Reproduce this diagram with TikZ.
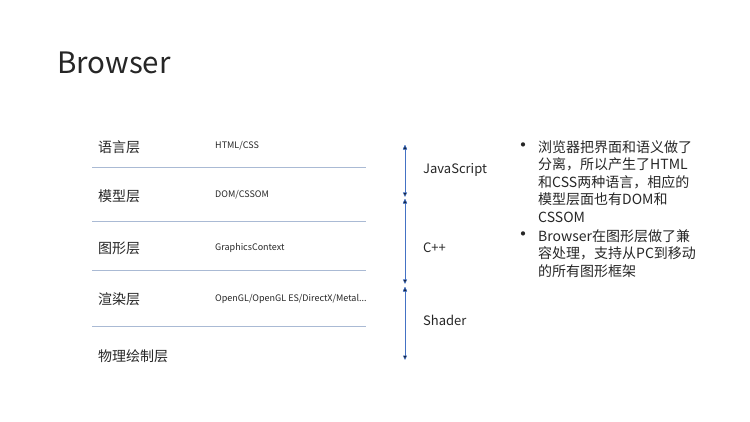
\documentclass[tikz,border=0pt]{standalone}
\usepackage{fontspec}
\setmainfont{Noto Sans CJK SC}
\usetikzlibrary{positioning,arrows.meta}
\definecolor{sepline}{RGB}{170,186,212}
\definecolor{arrblue}{RGB}{68,114,196}
\definecolor{ink}{RGB}{38,38,38}

\begin{document}
\begin{tikzpicture}
                [x=1pt, y=-1pt, every node/.style={text=ink},
                layer/.style = {anchor=west, inner sep=0, font=\fontsize{14}{16}\selectfont},
                api/.style = {anchor=west, inner sep=0, font=\fontsize{9}{10}\selectfont},
                lang/.style = {anchor=west, inner sep=0, font=\fontsize{13}{15}\selectfont},
                note/.style = {anchor=north west, inner sep=0, align=left, font=\fontsize{14}{17.5}\selectfont},
                bullet/.style = {inner sep=0, font=\fontsize{20}{20}\selectfont},
                sepline/.style = {draw=sepline, line width=0.8pt},
                span/.style = {draw=arrblue, line width=0.6pt, {Triangle[length=4.5pt,width=4pt]}-{Triangle[length=4.5pt,width=4pt]}}]
                \useasboundingbox (0,0) rectangle (750,422);
                % Title
                \node[anchor=west, inner sep=0, font=\fontsize{29.5}{34}\selectfont] (title) at (57,63) {Browser};
                % Layer names
                \node[layer] (lang) at (98,147) {语言层};
                \node[layer] (model) at (98,196) {模型层};
                \node[layer] (graph) at (98,248) {图形层};
                \node[layer] (render) at (98,299) {渲染层};
                \node[layer] (phys) at (98,356) {物理绘制层};
                % What each layer holds
                \node[api] (html) at (215,146) {HTML/CSS};
                \node[api] (dom) at (215,195) {DOM/CSSOM};
                \node[api] (gc) at (215,248) {GraphicsContext};
                \node[api] (gl) at (215,299) {OpenGL/OpenGL ES/DirectX/Metal...};
                % Separators
                \draw[sepline] (92,167) -- (366,167);
                \draw[sepline] (92,221) -- (366,221);
                \draw[sepline] (92,270) -- (366,270);
                \draw[sepline] (92,326) -- (366,326);
                % Spans on the right
                \coordinate (a0) at (405,145);
                \coordinate (a1) at (405,197);
                \coordinate (b0) at (405,199);
                \coordinate (b1) at (405,284);
                \coordinate (c0) at (405,287);
                \coordinate (c1) at (405,360);
                \path[span] (a0) edge (a1);
                \path[span] (b0) edge (b1);
                \path[span] (c0) edge (c1);
                \node[lang] (js) at (423,170) {JavaScript};
                \node[lang] (cpp) at (423,248) {C++};
                \node[lang] (shader) at (423,320) {Shader};
                % Notes
                \node[bullet] (dot1) at (523,148) {•};
                \node[note] (n1) at (538,140) {浏览器把界面和语义做了\\分离，所以产生了HTML\\和CSS两种语言，相应的\\模型层面也有DOM和\\CSSOM};
                \node[bullet] (dot2) at (523,237) {•};
                \node[note] (n2) at (538,229) {Browser在图形层做了兼\\容处理，支持从PC到移动\\的所有图形框架};
            \end{tikzpicture}
\end{document}
